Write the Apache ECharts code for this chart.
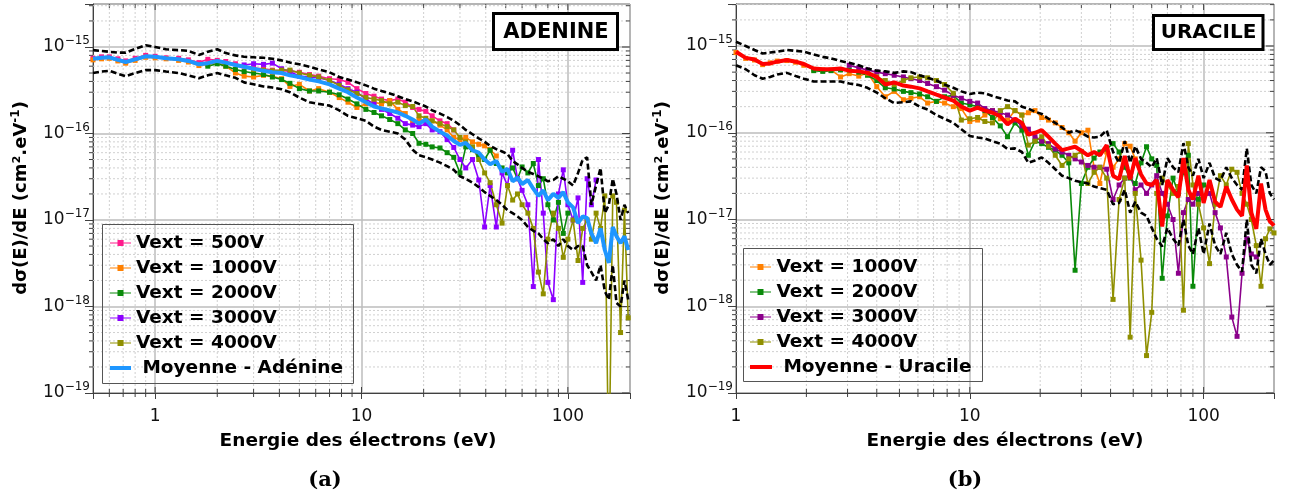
<!DOCTYPE html>
<html><head><meta charset="utf-8">
<script src="https://cdn.jsdelivr.net/npm/echarts@6/dist/echarts.min.js"></script>
<style>html,body{margin:0;padding:0;background:#fff}#c{width:1291px;height:497px}</style>
</head><body><div id="c"></div>
<script>
// ---------------- DATA ----------------
const N = null;
// Panel (a) ADENINE
const energyA = [0.5,0.55,0.6,0.66,0.72,0.8,0.9,1.0,1.13,1.3,
 1.45,1.63,1.8,2.0,2.2,2.45,2.7,3.0,3.35,3.7,
 4.1,4.5,5.0,5.6,6.2,7.0,7.8,8.6,9.5,10.5,
 11.5,12.5,13.7,15,16.3,17.7,19,20.5,22,24,
 26,28,30,32,34.5,37,39.5,42,45,48,
 51,54,57,60,64,68,72,76,80,85,
 90,95,100,106,112,118,124,130,137,144,
 151,158,165,172,180,188,196];
const ade500 = [7.4e-16,7.7e-16,7.7e-16,7.3e-16,6.9e-16,7.4e-16,8.0e-16,7.8e-16,7.5e-16,7.4e-16,
 7.1e-16,6.6e-16,7.2e-16,7.0e-16,6.8e-16,6.4e-16,6.0e-16,5.7e-16,5.6e-16,5.4e-16,
 5.3e-16,5.3e-16,5.1e-16,4.8e-16,4.6e-16,4.3e-16,4.2e-16,3.9e-16,3.3e-16,2.9e-16,
 2.7e-16,2.5e-16,2.4e-16,2.5e-16,2.3e-16,2.0e-16,1.9e-16,1.8e-16,1.6e-16,1.4e-16,
 1.3e-16,1.1e-16];
const ade1000 = [7.1e-16,7.3e-16,7.4e-16,6.9e-16,6.5e-16,7.0e-16,7.6e-16,7.5e-16,7.3e-16,7.0e-16,
 6.7e-16,6.1e-16,6.3e-16,6.6e-16,6.0e-16,5.0e-16,4.6e-16,4.5e-16,4.7e-16,4.6e-16,
 4.3e-16,3.5e-16,3.7e-16,3.1e-16,3.3e-16,3.0e-16,2.6e-16,2.3e-16,2.0e-16,2.2e-16,
 2.3e-16,2.2e-16,2.4e-16,1.9e-16,1.7e-16,1.3e-16,1.45e-16,1.4e-16,1.4e-16,1.25e-16,
 1.1e-16,9e-17,8.5e-17,9e-17,8e-17,7.5e-17,7.2e-17,6.5e-17,5.5e-17];
const ade2000 = [N,N,N,N,N,N,N,N,N,N,
 N,N,6.0e-16,6.4e-16,6.0e-16,5.5e-16,5.2e-16,5.0e-16,4.8e-16,4.5e-16,
 4.2e-16,3.8e-16,3.3e-16,3.1e-16,3.1e-16,3.0e-16,2.8e-16,2.5e-16,2.2e-16,1.9e-16,
 1.75e-16,1.6e-16,1.45e-16,1.3e-16,1.1e-16,1.0e-16,7.7e-17,7.5e-17,7.0e-17,6.8e-17,
 6e-17,5.3e-17,3.5e-17,7e-17,6.5e-17,5.5e-17,5e-17,6.4e-17,4.5e-17,4.0e-17,
 3.5e-17,4.0e-17,3.0e-17,4.1e-17,3.5e-17,4.5e-17,2.5e-17,3.0e-17,1.5e-17,1e-17,
 1.6e-17,7e-18,1.2e-17];
const ade3000 = [N,N,N,N,N,N,N,N,N,N,
 N,N,N,N,N,N,6.2e-16,6.4e-16,6.3e-16,6.5e-16,
 5.6e-16,5.2e-16,4.6e-16,4.5e-16,4.4e-16,4.1e-16,3.7e-16,3.3e-16,3.0e-16,2.5e-16,
 2.2e-16,1.9e-16,1.7e-16,1.5e-16,1.3e-16,1.25e-16,1.2e-16,1.3e-16,1.1e-16,1.05e-16,
 8.5e-17,6.9e-17,5e-17,4e-17,5e-17,2.9e-17,8.3e-18,2.5e-17,8.3e-18,3.5e-17,
 2.5e-17,6.4e-17,3e-17,2.2e-17,1.5e-17,1.7e-18,5e-17,1.2e-17,1.9e-18,1.2e-18,
 2e-17,3.8e-17,1.5e-17,1e-17,1.8e-17,1.9e-18,3e-17,1.5e-17,2.9e-17];
const ade4000 = [N,N,N,N,N,N,N,N,N,N,
 N,N,N,N,N,N,N,5.5e-16,5.4e-16,5.3e-16,
 5.4e-16,5.4e-16,5.0e-16,4.7e-16,4.5e-16,4.1e-16,3.6e-16,3.2e-16,2.9e-16,2.6e-16,
 2.5e-16,2.4e-16,2.2e-16,2.3e-16,2.1e-16,2.05e-16,1.6e-16,1.5e-16,1.4e-16,1.3e-16,
 1.2e-16,1.1e-16,9e-17,8e-17,7e-17,5e-17,3.5e-17,2.7e-17,1.5e-17,9.2e-18,
 2.5e-17,1.7e-17,2e-17,1.5e-17,1.2e-17,8e-18,2.5e-18,1.4e-18,6e-18,1.2e-17,
 8e-18,3.7e-18,6e-18,1e-17,3.4e-18,8e-18,1e-17,6e-18,1.2e-17,8e-18,
 1.9e-17,1e-20,1.9e-17,1.6e-17,5e-19,1.3e-17,7.4e-19];
const adeMean = [7.3e-16,7.5e-16,7.6e-16,7.1e-16,6.7e-16,7.2e-16,7.8e-16,7.7e-16,7.4e-16,7.2e-16,
 6.9e-16,6.3e-16,6.5e-16,6.9e-16,6.6e-16,6.2e-16,5.9e-16,5.6e-16,5.3e-16,5.1e-16,
 5.0e-16,4.7e-16,4.5e-16,4.2e-16,4.0e-16,3.7e-16,3.3e-16,3.0e-16,2.6e-16,2.3e-16,
 2.05e-16,1.95e-16,1.85e-16,1.75e-16,1.6e-16,1.45e-16,1.3e-16,1.45e-16,1.2e-16,1.05e-16,
 9.5e-17,8.2e-17,7.4e-17,7.8e-17,6.4e-17,6.0e-17,5.0e-17,4.4e-17,4.8e-17,3.6e-17,
 3.9e-17,2.8e-17,3.1e-17,2.6e-17,2.9e-17,2.3e-17,1.9e-17,2.2e-17,1.7e-17,2.0e-17,
 1.8e-17,2.1e-17,1.6e-17,1.4e-17,9.2e-18,1.1e-17,1.05e-17,7e-18,5.4e-18,8e-18,
 4.5e-18,3.2e-18,8.3e-18,6.5e-18,5.4e-18,6.5e-18,4.5e-18];
const adeUpper = [9.2e-16,9.0e-16,8.8e-16,8.6e-16,8.6e-16,9.5e-16,1.05e-15,1.0e-15,9.4e-16,9.2e-16,
 9.0e-16,8.1e-16,8.8e-16,9.4e-16,8.5e-16,8.0e-16,7.7e-16,7.6e-16,7.5e-16,7.3e-16,
 7.0e-16,6.6e-16,6.3e-16,5.9e-16,5.5e-16,5.1e-16,4.5e-16,4.2e-16,3.9e-16,3.6e-16,
 3.3e-16,3.1e-16,2.9e-16,2.7e-16,2.5e-16,2.35e-16,2.2e-16,2.05e-16,1.85e-16,1.7e-16,
 1.55e-16,1.4e-16,1.25e-16,1.1e-16,9.8e-17,8.8e-17,8e-17,7.2e-17,6.6e-17,6.2e-17,
 5.8e-17,4.8e-17,4.4e-17,4.0e-17,3.6e-17,3.4e-17,3.2e-17,3.0e-17,2.8e-17,2.9e-17,
 3.2e-17,3.0e-17,2.8e-17,2.5e-17,3.5e-17,5e-17,5.3e-17,1.5e-17,2.5e-17,4e-17,
 1.2e-17,1.5e-17,3e-17,2e-17,1e-17,1.5e-17,1.2e-17];
const adeLower = [5.0e-16,5.2e-16,5.3e-16,4.9e-16,4.6e-16,5.0e-16,5.4e-16,5.4e-16,5.2e-16,5.0e-16,
 4.7e-16,4.35e-16,4.7e-16,5.0e-16,4.7e-16,4.4e-16,3.9e-16,3.7e-16,3.5e-16,3.4e-16,
 3.25e-16,3.0e-16,2.6e-16,2.3e-16,2.2e-16,2.1e-16,1.85e-16,1.6e-16,1.5e-16,1.4e-16,
 1.2e-16,1.1e-16,1.05e-16,1.0e-16,8.5e-17,6.5e-17,5.6e-17,5.3e-17,5.0e-17,4.6e-17,
 4.2e-17,3.8e-17,3.2e-17,3.0e-17,2.7e-17,2.4e-17,2.1e-17,1.9e-17,1.7e-17,1.5e-17,
 1.3e-17,1.2e-17,1.1e-17,1.0e-17,8.3e-18,7.5e-18,7e-18,6e-18,5.4e-18,6e-18,
 5e-18,6e-18,5e-18,4.5e-18,5e-18,5e-18,3e-18,2.5e-18,2.0e-18,3e-18,
 1.5e-18,1.2e-18,3e-18,1.1e-18,1e-18,2e-18,1.2e-18];

// Panel (b) URACILE
const energyB = [1.0,1.1,1.2,1.3,1.4,1.5,1.65,1.8,1.95,2.15,
 2.35,2.55,2.8,3.05,3.35,3.65,4.0,4.35,4.75,5.2,
 5.6,6.1,6.6,7.2,7.8,8.5,9.2,10,10.8,11.6,
 12.5,13.5,14.5,15.6,16.7,17.8,19,20.3,21.7,23.2,
 24.8,26.5,28.2,30,32,34,36,38.5,41,43.5,
 46,48.5,51,54,57,60,63,66.5,70,74,
 78,82,86,90,95,100,106,112,118,125,
 132,139,146,153,160,168,176,184,192,200];
const ura1000 = [8.4e-16,7.2e-16,6.9e-16,6.1e-16,6.4e-16,6.7e-16,6.8e-16,6.5e-16,6.0e-16,5.4e-16,
 5.3e-16,5.3e-16,4.4e-16,4.8e-16,4.5e-16,4.9e-16,3.4e-16,2.6e-16,3.0e-16,2.4e-16,
 2.5e-16,2.6e-16,2.2e-16,2.3e-16,2.2e-16,2.0e-16,1.9e-16,1.35e-16,1.4e-16,1.6e-16,
 1.8e-16,1.45e-16,1.4e-16,1.8e-16,1.6e-16,1.7e-16,1.8e-16,1.5e-16,1.4e-16,1.3e-16,
 1.15e-16,1.0e-16,8e-17,1.0e-16,1.07e-16,4e-17,2.6e-17,6e-17,4e-17,5e-17,
 7.5e-17,7e-17,5e-17];
const ura2000 = [N,N,N,N,N,N,N,N,N,5.2e-16,
 5.1e-16,5.2e-16,5.3e-16,5.3e-16,5.0e-16,4.6e-16,4.0e-16,3.3e-16,3.2e-16,3.0e-16,
 2.9e-16,2.8e-16,2.6e-16,2.3e-16,2.6e-16,2.7e-16,2.2e-16,2.1e-16,2.0e-16,1.8e-16,
 1.5e-16,1.2e-16,9e-17,1.3e-16,1.07e-16,5.5e-17,8e-17,7.5e-17,6.8e-17,6.3e-17,
 5.5e-17,4.5e-17,2.6e-18,2.6e-17,4e-17,5.1e-17,6e-17,6.5e-17,7.5e-17,6e-17,
 4e-17,3e-17,2.6e-17,4.5e-17,6.9e-17,5e-17,4.2e-17,2.1e-18,1.1e-17,3e-17,
 2e-17,3.5e-17,5.5e-17,1.7e-18,1.7e-17,2.5e-17];
const ura3000 = [N,N,N,N,N,N,N,N,N,N,
 N,N,N,6.0e-16,5.6e-16,5.3e-16,5.0e-16,4.8e-16,4.6e-16,4.4e-16,
 4.2e-16,4.0e-16,3.7e-16,3.4e-16,3.1e-16,2.7e-16,2.5e-16,2.3e-16,2.2e-16,1.9e-16,
 1.8e-16,1.7e-16,1.6e-16,1.4e-16,1.2e-16,1.1e-16,9e-17,8e-17,7.5e-17,6.5e-17,
 6e-17,5.5e-17,5e-17,4.6e-17,4.2e-17,4e-17,4e-17,3.8e-17,1.7e-17,2.5e-17,
 3e-17,3.2e-17,2.2e-17,2.5e-17,2e-17,2.5e-17,3.2e-17,2e-17,1.5e-17,1e-17,
 2.4e-18,1.2e-17,1.7e-17,1.5e-17,2e-17,1.8e-17,2e-17,1.2e-17,8e-18,3.7e-18,
 7.5e-19,4.5e-19,2.4e-18,6e-18,4e-18,3.7e-18];
const ura4000 = [N,N,N,N,N,N,N,N,N,N,
 N,N,N,N,N,4.8e-16,4.4e-16,4.0e-16,3.6e-16,4.0e-16,
 4.3e-16,4.4e-16,4.3e-16,4.0e-16,3.6e-16,2.85e-16,1.4e-16,1.45e-16,1.5e-16,1.35e-16,
 1.3e-16,1.8e-16,2.0e-16,1.8e-16,1.6e-16,7.2e-17,8e-17,9e-17,7e-17,5.5e-17,
 4.2e-17,5e-17,5.5e-17,6.1e-17,2.6e-17,3.5e-17,4e-17,3e-17,1.2e-18,1.7e-17,
 3e-17,4.4e-19,2e-17,3.4e-18,2.7e-19,8.5e-19,2e-17,3e-17,2.5e-17,2e-17,
 2.4e-17,9e-19,7.5e-17,2.5e-17,1.5e-17,8e-18,3.1e-18,1.5e-17,3.2e-17,2.5e-17,
 3.8e-17,3.5e-17,2e-17,1.5e-17,1e-17,5e-18,1.7e-18,6e-18,7.8e-18,7e-18];
const uraMean = [8.6e-16,7.3e-16,7.0e-16,6.2e-16,6.3e-16,6.6e-16,6.9e-16,6.6e-16,6.2e-16,5.5e-16,
 5.4e-16,5.4e-16,5.5e-16,5.2e-16,5.1e-16,4.9e-16,4.4e-16,3.6e-16,3.8e-16,3.5e-16,
 3.4e-16,3.25e-16,3.0e-16,2.75e-16,2.55e-16,2.35e-16,2.0e-16,1.8e-16,1.95e-16,1.8e-16,
 1.7e-16,1.55e-16,1.25e-16,1.45e-16,1.3e-16,9.5e-17,1.0e-16,1.07e-16,9e-17,7.5e-17,
 6.3e-17,6.6e-17,6.9e-17,6.2e-17,5.5e-17,6.0e-17,5.5e-17,7.2e-17,3.2e-17,2.9e-17,
 5.4e-17,2.9e-17,5.1e-17,3.3e-17,2.6e-17,2.5e-17,2.85e-17,8.3e-18,2.85e-17,2.2e-17,
 1.8e-17,5.1e-17,2.2e-17,1.7e-17,3.2e-17,1.55e-17,2.85e-17,1.6e-17,1.4e-17,2.4e-17,
 1.7e-17,1.3e-17,1.1e-17,4.2e-17,1.2e-17,7.8e-18,2.6e-17,1.3e-17,9.5e-18,8.5e-18];
const uraUpper = [1.12e-15,1.0e-15,9.0e-16,8.2e-16,8.4e-16,8.6e-16,9.0e-16,8.8e-16,8.6e-16,8.0e-16,
 7.5e-16,7.2e-16,6.7e-16,6.4e-16,6.0e-16,5.5e-16,5.2e-16,5.1e-16,4.9e-16,5.1e-16,
 5.0e-16,4.6e-16,4.3e-16,4.0e-16,3.6e-16,3.3e-16,3.0e-16,2.8e-16,2.9e-16,2.85e-16,
 2.65e-16,2.5e-16,2.35e-16,2.3e-16,2.0e-16,1.9e-16,1.75e-16,1.65e-16,1.45e-16,1.3e-16,
 1.15e-16,1.0e-16,1.07e-16,1.0e-16,9e-17,8.8e-17,9e-17,1.07e-16,6e-17,4.5e-17,
 8e-17,4.5e-17,7e-17,5e-17,4.5e-17,4e-17,5.1e-17,2.5e-17,5.1e-17,4e-17,
 3.5e-17,7.6e-17,4e-17,3.2e-17,5e-17,3e-17,4.5e-17,3e-17,2.8e-17,4e-17,
 3e-17,2.5e-17,2.2e-17,6.6e-17,2.5e-17,2e-17,4e-17,3.6e-17,2e-17,1.7e-17];
const uraLower = [6.0e-16,5.4e-16,4.6e-16,4.2e-16,4.4e-16,4.7e-16,4.9e-16,4.5e-16,4.2e-16,3.9e-16,
 3.9e-16,3.9e-16,3.9e-16,3.7e-16,3.55e-16,3.3e-16,2.9e-16,2.5e-16,2.2e-16,2.25e-16,
 2.3e-16,2.0e-16,1.85e-16,1.6e-16,1.45e-16,1.3e-16,1.1e-16,9.2e-17,8.8e-17,8.6e-17,
 8e-17,7.5e-17,6.5e-17,6.6e-17,6.0e-17,4.5e-17,4.8e-17,5.2e-17,4.5e-17,3.8e-17,
 3.2e-17,3.0e-17,2.8e-17,2.7e-17,2.6e-17,2.4e-17,2.3e-17,2.2e-17,1.5e-17,1.55e-17,
 2.2e-17,1.2e-17,1.6e-17,1.2e-17,1.1e-17,8e-18,6e-18,4.9e-18,8e-18,6e-18,
 5e-18,1e-17,5e-18,4e-18,8e-18,4e-18,9e-18,5e-18,4e-18,7e-18,
 4e-18,3e-18,2.5e-18,1e-17,3e-18,2.4e-18,6e-18,4e-18,3e-18,3.4e-18];

// Series names, tick values and tick labels
const namesA = ['Vext = 500V','Vext = 1000V','Vext = 2000V','Vext = 3000V','Vext = 4000V'];
const namesB = ['Vext = 1000V','Vext = 2000V','Vext = 3000V','Vext = 4000V'];
const meanNameA = 'Moyenne - Adénine';
const meanNameB = 'Moyenne - Uracile';
const xTickValues = [1, 10, 100];
const xTickLabels = ['1', '10', '100'];
const yTickValues = [1e-19, 1e-18, 1e-17, 1e-16, 1e-15];
const yTickExponents = ['−19', '−18', '−17', '−16', '−15'];
const minorMantissas = [2, 3, 4, 5, 6, 7, 8, 9];
const xDecadesA = [0.1, 1, 10, 100];
const xDecadesB = [1, 10, 100];
const yDecades = [1e-19, 1e-18, 1e-17, 1e-16, 1e-15];

// ---------------- STYLE ----------------
const FONT = 'DejaVu Sans';
const colorsA = ['#ff1a8c', '#ff8000', '#0a8a0a', '#8c00ff', '#8f8f00'];
const colorsB = ['#ff8000', '#0a8a0a', '#8b008b', '#8f8f00'];
const blue = '#1e96ff', red = '#ff0000';
const xRangeA = [0.5, 200], xRangeB = [1, 200];
const yRangeA = [1e-19, 3.14e-15], yRangeB = [1e-19, 3.05e-15];

function pairs(xs, ys) {
  const out = [];
  for (let i = 0; i < xs.length; i++) if (ys[i] != null) out.push([xs[i], ys[i]]);
  return out;
}
function dataSeries(name, xs, ys, color, g) {
  return { name, type: 'line', xAxisIndex: g, yAxisIndex: g, data: pairs(xs, ys),
    symbol: 'rect', symbolSize: 5, showSymbol: true, showAllSymbol: true,
    lineStyle: { color, width: 1.6 }, itemStyle: { color }, z: 2, silent: true,
    animation: false, clip: true, emphasis: { disabled: true } };
}
function boundSeries(name, xs, ys, g) {
  return { name, type: 'line', xAxisIndex: g, yAxisIndex: g, data: pairs(xs, ys),
    symbol: 'none', lineStyle: { color: '#000', width: 2.6, type: [6, 3] }, z: 3,
    silent: true, animation: false, clip: true, emphasis: { disabled: true } };
}
function meanSeries(name, xs, ys, color, g) {
  return { name, type: 'line', xAxisIndex: g, yAxisIndex: g, data: pairs(xs, ys),
    symbol: 'none', lineStyle: { color, width: 4 }, itemStyle: { color }, z: 4,
    silent: true, animation: false, clip: true, emphasis: { disabled: true } };
}
function isTick(v, list) {
  for (let i = 0; i < list.length; i++) if (Math.abs(v - list[i]) / list[i] < 1e-6) return i;
  return -1;
}
function xLabel(v) { const i = isTick(v, xTickValues); return i < 0 ? '' : xTickLabels[i]; }
function yLabel(v) { const i = isTick(v, yTickValues); return i < 0 ? '' : '{b|10}{s|' + yTickExponents[i] + '}'; }

function xAxis(g, range) {
  return { type: 'log', logBase: 10, gridIndex: g, min: range[0], max: range[1],
    axisLine: { show: true, lineStyle: { color: '#404040', width: 1 } },
    axisTick: { show: true, length: 6, lineStyle: { color: '#404040' } },
    axisLabel: { margin: 14, fontFamily: FONT, fontSize: 17, color: '#111', lineHeight: 20, formatter: xLabel },
    splitLine: { show: true, lineStyle: { color: '#bdbdbd', width: 1.5 } },
    minorTick: { show: false }, minorSplitLine: { show: false } };
}
function yAxis(g, range) {
  return { type: 'log', logBase: 10, gridIndex: g, min: range[0], max: range[1],
    axisLine: { show: true, lineStyle: { color: '#404040', width: 1 } },
    axisTick: { show: true, length: 8, lineStyle: { color: '#404040' } },
    axisLabel: { margin: 3, formatter: yLabel, rich: {
      b: { fontFamily: FONT, fontSize: 17, color: '#111', lineHeight: 24 },
      s: { fontFamily: FONT, fontSize: 12, color: '#111', lineHeight: 14, verticalAlign: 'top' } } },
    splitLine: { show: true, lineStyle: { color: '#bdbdbd', width: 1.5 } },
    minorTick: { show: false }, minorSplitLine: { show: false } };
}

function minorVals(decades, lo, hi) {
  const out = [];
  decades.forEach(d => minorMantissas.forEach(m => { const v = m * d; if (v > lo * 1.0001 && v < hi * 0.9999) out.push(v); }));
  return out;
}
function frameData(xDec, xr, yr) {
  const d = [];
  minorVals(xDec, xr[0], xr[1]).forEach(v => d.push([v, yr[0], 0]));
  minorVals(yDecades, yr[0], yr[1]).forEach(v => d.push([xr[0], v, 1]));
  xTickValues.forEach(v => { if (v > xr[0] * 1.0001) d.push([v, yr[0], 2]); });
  yTickValues.forEach(v => d.push([xr[0], v, 3]));
  return d;
}
function frameItem(params, api) {
  const kind = api.value(2);
  const cs = params.coordSys;
  const p = api.coord([api.value(0), api.value(1)]);
  const x0 = cs.x, x1 = cs.x + cs.width, y0 = cs.y, y1 = cs.y + cs.height;
  const tk = { stroke: '#404040', lineWidth: 1 };
  const grid = { stroke: '#d0d0d0', lineWidth: 1, lineDash: [2, 2] };
  const c = [];
  if (kind === 0) {
    c.push({ type: 'line', shape: { x1: p[0], y1: y0, x2: p[0], y2: y1 }, style: grid });
    c.push({ type: 'line', shape: { x1: p[0], y1: y1 - 4, x2: p[0], y2: y1 + 4 }, style: tk });
    c.push({ type: 'line', shape: { x1: p[0], y1: y0, x2: p[0], y2: y0 + 4 }, style: tk });
  } else if (kind === 1) {
    c.push({ type: 'line', shape: { x1: x0, y1: p[1], x2: x1, y2: p[1] }, style: grid });
    c.push({ type: 'line', shape: { x1: x0 - 4, y1: p[1], x2: x0, y2: p[1] }, style: tk });
    c.push({ type: 'line', shape: { x1: x1 - 4, y1: p[1], x2: x1, y2: p[1] }, style: tk });
  } else if (kind === 2) {
    c.push({ type: 'line', shape: { x1: p[0], y1: y1 - 6, x2: p[0], y2: y1 }, style: tk });
    c.push({ type: 'line', shape: { x1: p[0], y1: y0, x2: p[0], y2: y0 + 6 }, style: tk });
  } else {
    c.push({ type: 'line', shape: { x1: x1 - 8, y1: p[1], x2: x1, y2: p[1] }, style: tk });
  }
  return { type: 'group', children: c };
}
function frameSeries(g, xDec, xr, yr) {
  return { type: 'custom', xAxisIndex: g, yAxisIndex: g, data: frameData(xDec, xr, yr),
    renderItem: frameItem, silent: true, z: 1, clip: false, animation: false };
}

const series = [
  frameSeries(0, xDecadesA, xRangeA, yRangeA),
  frameSeries(1, xDecadesB, xRangeB, yRangeB),
  dataSeries(namesA[0], energyA, ade500, colorsA[0], 0),
  dataSeries(namesA[1], energyA, ade1000, colorsA[1], 0),
  dataSeries(namesA[2], energyA, ade2000, colorsA[2], 0),
  dataSeries(namesA[3], energyA, ade3000, colorsA[3], 0),
  dataSeries(namesA[4], energyA, ade4000, colorsA[4], 0),
  boundSeries('adeUpper', energyA, adeUpper, 0),
  boundSeries('adeLower', energyA, adeLower, 0),
  meanSeries(meanNameA, energyA, adeMean, blue, 0),
  dataSeries(namesB[0], energyB, ura1000, colorsB[0], 1),
  dataSeries(namesB[1], energyB, ura2000, colorsB[1], 1),
  dataSeries(namesB[2], energyB, ura3000, colorsB[2], 1),
  dataSeries(namesB[3], energyB, ura4000, colorsB[3], 1),
  boundSeries('uraUpper', energyB, uraUpper, 1),
  boundSeries('uraLower', energyB, uraLower, 1),
  meanSeries(meanNameB, energyB, uraMean, red, 1)
];

const markerIcon = 'path://M0,2.4L21,2.4L21,3.6L0,3.6Z M7.5,0L13.5,0L13.5,6L7.5,6Z';
const legendText = { fontFamily: FONT, fontWeight: 'bold', fontSize: 18.5, color: '#000', lineHeight: 20 };
function legendBlock(left, top, names, colors, w) {
  return { orient: 'vertical', left, top, padding: 0, itemWidth: w, itemHeight: 6, itemGap: 5,
    selectedMode: false, textStyle: legendText, itemStyle: { borderWidth: 0 },
    data: names.map((n, i) => ({ name: n, icon: markerIcon, itemStyle: { color: colors[i], borderWidth: 0 } })) };
}
function legendMean(left, top, name, color, w) {
  return { orient: 'vertical', left, top, padding: 0, itemWidth: w, itemHeight: 4, itemGap: 5,
    selectedMode: false, textStyle: legendText, formatter: n => ' ' + n,
    data: [{ name, icon: 'rect', itemStyle: { color, borderWidth: 0 } }] };
}

const titleBold = { fontFamily: FONT, fontWeight: 'bold', fill: '#000' };
const graphic = [
  { type: 'rect', shape: { x: 493.5, y: 13.5, width: 124, height: 36 }, style: { fill: '#fff', stroke: '#000', lineWidth: 3 }, z: 50 },
  { type: 'text', x: 556, y: 32.5, style: Object.assign({ text: 'ADENINE', fontSize: 21, align: 'center', verticalAlign: 'middle' }, titleBold), z: 51 },
  { type: 'rect', shape: { x: 1153.5, y: 15.5, width: 109.5, height: 34 }, style: { fill: '#fff', stroke: '#000', lineWidth: 3 }, z: 50 },
  { type: 'text', x: 1208.5, y: 33, style: Object.assign({ text: 'URACILE', fontSize: 20, align: 'center', verticalAlign: 'middle' }, titleBold), z: 51 },
  { type: 'rect', shape: { x: 102.5, y: 224.5, width: 251, height: 159 }, style: { fill: 'none', stroke: '#555', lineWidth: 1 }, z: 50 },
  { type: 'rect', shape: { x: 743.5, y: 248.5, width: 239, height: 133 }, style: { fill: 'none', stroke: '#555', lineWidth: 1 }, z: 50 },
  { type: 'text', x: 358, y: 441, style: Object.assign({ text: 'Energie des électrons (eV)', fontSize: 18.5, align: 'center', verticalAlign: 'middle' }, titleBold), z: 51 },
  { type: 'text', x: 1005, y: 441, style: Object.assign({ text: 'Energie des électrons (eV)', fontSize: 18.5, align: 'center', verticalAlign: 'middle' }, titleBold), z: 51 },
  { type: 'text', x: 21, y: 198, rotation: Math.PI / 2, style: { text: '{m|dσ(E)/dE (cm².eV}{s|-1}{m|)}', align: 'center', verticalAlign: 'middle',
      rich: { m: { fontFamily: FONT, fontWeight: 'bold', fontSize: 18, lineHeight: 22, fill: '#000' }, s: { fontFamily: FONT, fontWeight: 'bold', fontSize: 12, lineHeight: 14, verticalAlign: 'top', fill: '#000' } } }, z: 51 },
  { type: 'text', x: 663, y: 198, rotation: Math.PI / 2, style: { text: '{m|dσ(E)/dE (cm².eV}{s|-1}{m|)}', align: 'center', verticalAlign: 'middle',
      rich: { m: { fontFamily: FONT, fontWeight: 'bold', fontSize: 18, lineHeight: 22, fill: '#000' }, s: { fontFamily: FONT, fontWeight: 'bold', fontSize: 12, lineHeight: 14, verticalAlign: 'top', fill: '#000' } } }, z: 51 },
  { type: 'text', x: 325, y: 481, style: { text: '(a)', fontFamily: 'DejaVu Serif', fontWeight: 'bold', fontSize: 21, fill: '#000', align: 'center', verticalAlign: 'middle' }, z: 51 },
  { type: 'text', x: 965, y: 481, style: { text: '(b)', fontFamily: 'DejaVu Serif', fontWeight: 'bold', fontSize: 21, fill: '#000', align: 'center', verticalAlign: 'middle' }, z: 51 }
];

const chart = echarts.init(document.getElementById('c'), null, { renderer: 'canvas' });
chart.setOption({
  animation: false,
  backgroundColor: '#fff',
  textStyle: { fontFamily: FONT },
  grid: [
    { left: 93, top: 4, width: 537, height: 389, show: true, borderColor: '#404040', borderWidth: 1, backgroundColor: 'transparent' },
    { left: 736, top: 4, width: 538, height: 389, show: true, borderColor: '#404040', borderWidth: 1, backgroundColor: 'transparent' }
  ],
  xAxis: [xAxis(0, xRangeA), xAxis(1, xRangeB)],
  yAxis: [yAxis(0, yRangeA), yAxis(1, yRangeB)],
  legend: [
    legendBlock(110, 233, namesA, colorsA, 21),
    legendMean(110, 358, meanNameA, blue, 21),
    legendBlock(750, 257, namesB, colorsB, 22),
    legendMean(750, 357, meanNameB, red, 22)
  ],
  graphic,
  series
});
</script></body></html>
